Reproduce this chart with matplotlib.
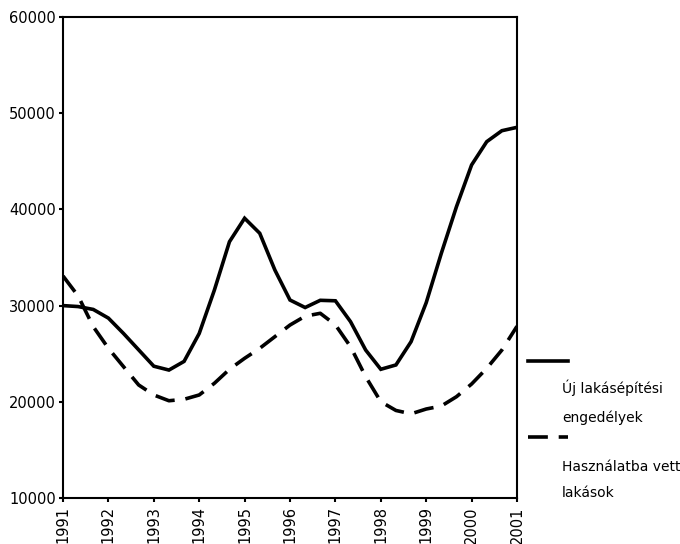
import matplotlib.pyplot as plt
import numpy as np
from matplotlib.lines import Line2D

plt.rcParams['font.family'] = ['DejaVu Sans']

# three readings a year, 1991 .. 2001
years = np.arange(1991, 2001.01, 1/3)
year_labels = [str(y) for y in range(1991, 2002)]

uj_engedely = [30000, 29900, 29600, 28700, 27100, 25400, 23700, 23300, 24200, 27100,
               31600, 36640, 39080, 37520, 33700, 30580, 29800, 30550, 30500, 28330,
               25380, 23380, 23830, 26250, 30300, 35440, 40280, 44620, 47040, 48180,
               48530]
hasznalatba = [33080, 31000, 27810, 25560, 23650, 21750, 20710, 20110, 20260, 20710,
               21920, 23380, 24520, 25560, 26770, 27980, 28900, 29200, 28000, 25730,
               22610, 20010, 19100, 18750, 19250, 19560, 20530, 21850, 23480, 25380,
               27850]

fig = plt.figure(figsize=(6.8, 5.44), dpi=100)
ax = fig.add_axes([63/680, 1 - 498/544, (517-63)/680, (498-17)/544])

ax.plot(years, uj_engedely, color='black', lw=2.6, solid_joinstyle='miter')
ax.plot(years, hasznalatba, color='black', lw=2.6, dashes=(5.5, 3))

ax.set_xlim(1991, 2001)
ax.set_ylim(10000, 60000)
ax.set_xticks(range(1991, 2002))
ax.set_xticklabels(year_labels, rotation=90, fontsize=10.5)
ax.set_yticks(range(10000, 60001, 10000))
ax.tick_params(axis='y', labelsize=10.5, length=3, width=1.5, pad=2)
ax.tick_params(axis='x', length=3, width=1.5, pad=3)
for s in ax.spines.values():
    s.set_linewidth(1.5)

# legend on the right, text under each sample
fig.add_artist(Line2D([528/680, 568/680], [1 - 361/544, 1 - 361/544],
                      color='black', lw=2.6))
fig.add_artist(Line2D([528/680, 568/680], [1 - 437/544, 1 - 437/544],
                      color='black', lw=2.6, dashes=(5.5, 3)))
fig.text(562/680, 1 - 388/544, 'Új lakásépítési', fontsize=10, va='center')
fig.text(562/680, 1 - 418/544, 'engedélyek', fontsize=10, va='center')
fig.text(562/680, 1 - 467/544, 'Használatba vett', fontsize=10, va='center')
fig.text(562/680, 1 - 493/544, 'lakások', fontsize=10, va='center')

fig.savefig('out.png', dpi=100)
